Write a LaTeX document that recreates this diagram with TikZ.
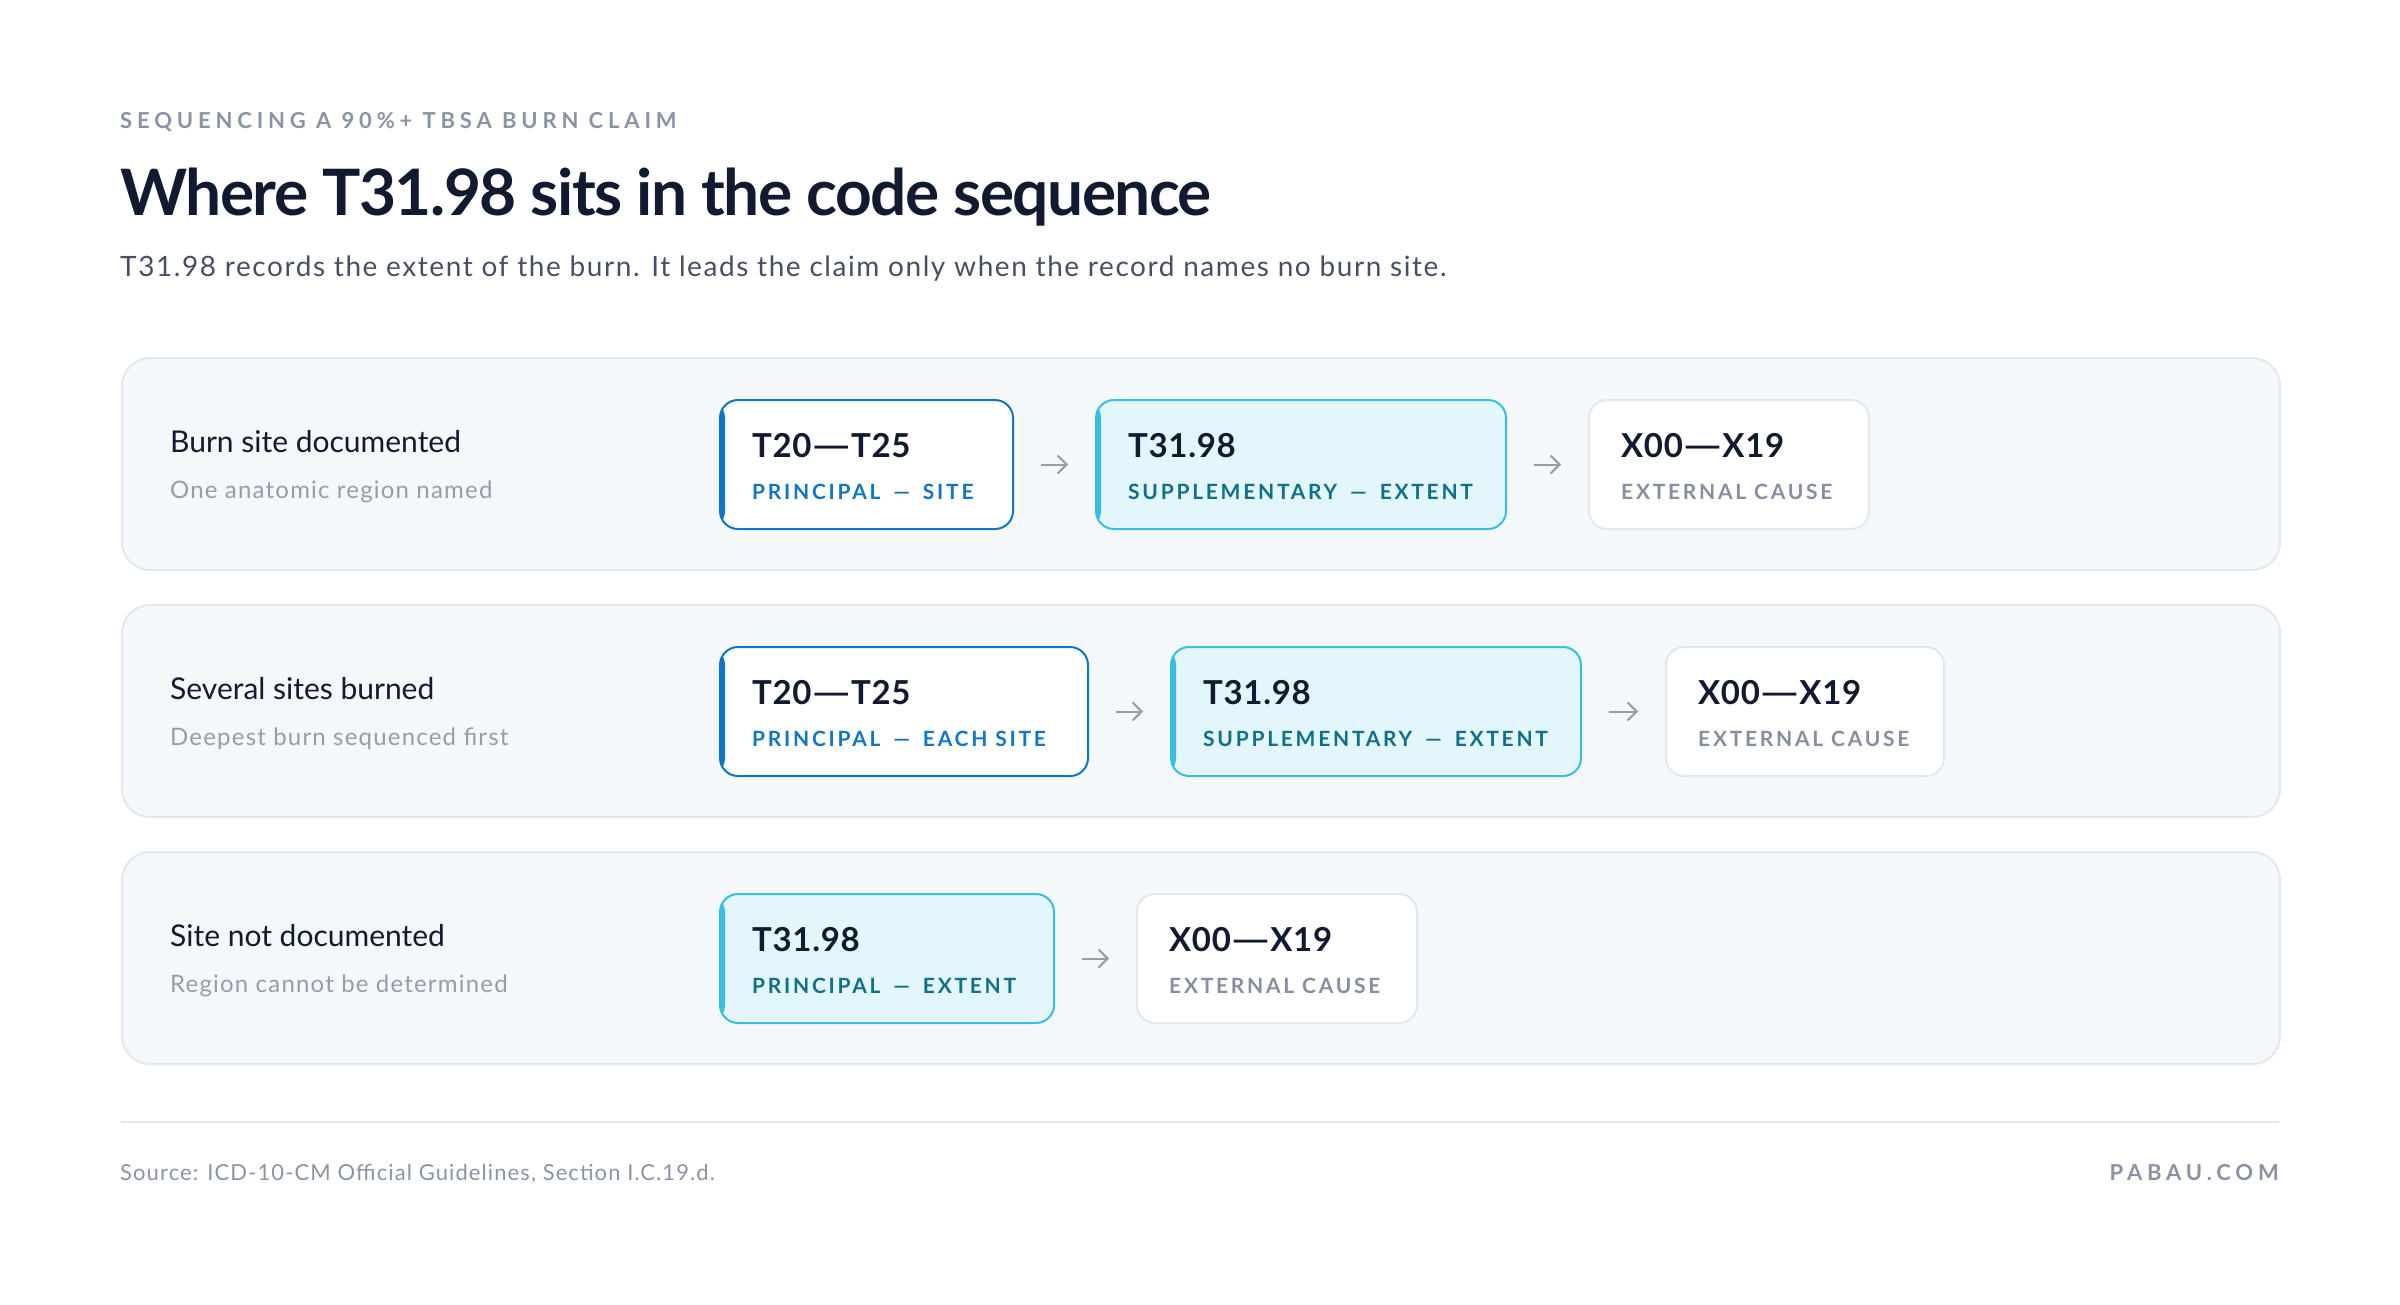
\documentclass[tikz,border=0pt]{standalone}
\usepackage{fontspec}
\setmainfont{Lato}
\newfontfamily\trackfont{Lato}[LetterSpace=13]
\newfontfamily\widetrackfont{Lato}[LetterSpace=22]
\newfontfamily\loosefont{Lato}[LetterSpace=5]
\newfontfamily\ledefont{Lato}[LetterSpace=5.6]
\newfontfamily\tightfont{Lato}[LetterSpace=-2.4]
\newfontfamily\codefont{Lato}[LetterSpace=2]
\newcommand\tagdash{\kern5pt{} — \kern5pt{}}
\newcommand\codedash{\scalebox{1.5}[1]{—}}
\usepackage{tikz}
\usetikzlibrary{arrows.meta,positioning,calc}
\definecolor{navy}{RGB}{17,26,48}
\definecolor{eyebrow}{RGB}{138,147,165}
\definecolor{subgray}{RGB}{71,80,99}
\definecolor{softgray}{RGB}{150,156,170}
\definecolor{rowbg}{RGB}{244,248,251}
\definecolor{rowline}{RGB}{226,232,239}
\definecolor{pblue}{RGB}{18,118,198}
\definecolor{cyanline}{RGB}{56,190,222}
\definecolor{cyanbg}{RGB}{227,246,251}
\definecolor{tealtext}{RGB}{16,112,138}
\definecolor{extgray}{RGB}{134,142,160}

\begin{document}
\begin{tikzpicture}[x=1pt,y=-1pt,
  row/.style={draw=rowline,fill=rowbg,line width=2pt,rounded corners=28pt,
    minimum width=2158pt,minimum height=212pt,inner sep=0pt,anchor=north west},
  box/.style={rounded corners=18pt,minimum height=129pt,inner sep=0pt,line width=2pt},
  principal/.style={box,fill=white,draw=pblue,
    path picture={\fill[pblue] (path picture bounding box.north west) rectangle ([xshift=5pt]path picture bounding box.south west);}},
  extent/.style={box,fill=cyanbg,draw=cyanline,
    path picture={\fill[cyanline] (path picture bounding box.north west) rectangle ([xshift=5pt]path picture bounding box.south west);}},
  external/.style={box,fill=white,draw=rowline},
  code/.style={anchor=base west,inner sep=0pt,text=navy,font=\fontsize{33}{40}\selectfont\codefont\bfseries},
  tag/.style={anchor=base west,inner sep=0pt,font=\fontsize{21}{26}\selectfont\trackfont\bfseries},
  lead/.style={anchor=base west,inner sep=0pt,text=navy,font=\fontsize{30}{36}\selectfont},
  leadsub/.style={anchor=base west,inner sep=0pt,text=softgray,font=\fontsize{24}{30}\selectfont\loosefont},
  arrow/.style={draw=softgray,line width=2pt,-{Straight Barb[length=9pt,width=18pt]},
    shorten <=27pt,shorten >=27pt}]
  \useasboundingbox (0,0) rectangle (2400,1304);

  % heading
  \node[anchor=base west,inner sep=0pt,text=eyebrow,font=\fontsize{22}{26}\selectfont\widetrackfont\bfseries]
    (eyebrow) at (120,128) {SEQUENCING A 90\%+ TBSA BURN CLAIM};
  \node[anchor=base west,inner sep=0pt,text=navy,font=\fontsize{64}{70}\selectfont\tightfont\bfseries]
    (title) at (120,215) {Where T31.98 sits in the code sequence};
  \node[anchor=base west,inner sep=0pt,text=subgray,font=\fontsize{28}{32}\selectfont\ledefont]
    (lede) at (120,276) {T31.98 records the extent of the burn. It leads the claim only when the record names no burn site.};

  % row 1
  \node[row] (row1) at (121,357) {};
  \node[lead] (lead1) at ([shift={(49,95)}]row1.north west) {Burn site documented};
  \node[leadsub] (sub1) at ([shift={(49,141)}]row1.north west) {One anatomic region named};
  \node[principal,minimum width=293pt,anchor=north west] (A1) at ([shift={(598,42)}]row1.north west) {};
  \node[extent,minimum width=410pt,right=81pt of A1] (B1) {};
  \node[external,minimum width=280pt,right=81pt of B1] (C1) {};
  \node[code] at ([shift={(33,58)}]A1.north west) {T20\codedash T25};
  \node[tag,text=pblue] at ([shift={(33,100)}]A1.north west) {PRINCIPAL\tagdash SITE};
  \node[code] at ([shift={(33,58)}]B1.north west) {T31.98};
  \node[tag,text=tealtext] at ([shift={(33,100)}]B1.north west) {SUPPLEMENTARY\tagdash EXTENT};
  \node[code] at ([shift={(33,58)}]C1.north west) {X00\codedash X19};
  \node[tag,text=extgray] at ([shift={(33,100)}]C1.north west) {EXTERNAL CAUSE};
  \draw[arrow] (A1) -- (B1);
  \draw[arrow] (B1) -- (C1);

  % row 2
  \node[row] (row2) at (121,604) {};
  \node[lead] (lead2) at ([shift={(49,95)}]row2.north west) {Several sites burned};
  \node[leadsub] (sub2) at ([shift={(49,141)}]row2.north west) {Deepest burn sequenced first};
  \node[principal,minimum width=368pt,anchor=north west] (A2) at ([shift={(598,42)}]row2.north west) {};
  \node[extent,minimum width=410pt,right=81pt of A2] (B2) {};
  \node[external,minimum width=278pt,right=83pt of B2] (C2) {};
  \node[code] at ([shift={(33,58)}]A2.north west) {T20\codedash T25};
  \node[tag,text=pblue] at ([shift={(33,100)}]A2.north west) {PRINCIPAL\tagdash EACH SITE};
  \node[code] at ([shift={(33,58)}]B2.north west) {T31.98};
  \node[tag,text=tealtext] at ([shift={(33,100)}]B2.north west) {SUPPLEMENTARY\tagdash EXTENT};
  \node[code] at ([shift={(33,58)}]C2.north west) {X00\codedash X19};
  \node[tag,text=extgray] at ([shift={(33,100)}]C2.north west) {EXTERNAL CAUSE};
  \draw[arrow] (A2) -- (B2);
  \draw[arrow] (B2) -- (C2);

  % row 3
  \node[row] (row3) at (121,851) {};
  \node[lead] (lead3) at ([shift={(49,95)}]row3.north west) {Site not documented};
  \node[leadsub] (sub3) at ([shift={(49,141)}]row3.north west) {Region cannot be determined};
  \node[extent,minimum width=334pt,anchor=north west] (A3) at ([shift={(598,42)}]row3.north west) {};
  \node[external,minimum width=280pt,right=81pt of A3] (B3) {};
  \node[code] at ([shift={(33,58)}]A3.north west) {T31.98};
  \node[tag,text=tealtext] at ([shift={(33,100)}]A3.north west) {PRINCIPAL\tagdash EXTENT};
  \node[code] at ([shift={(33,58)}]B3.north west) {X00\codedash X19};
  \node[tag,text=extgray] at ([shift={(33,100)}]B3.north west) {EXTERNAL CAUSE};
  \draw[arrow] (A3) -- (B3);

  % footer
  \draw[rowline,line width=2pt] (121,1122) -- (2279,1122);
  \node[anchor=base west,inner sep=0pt,text=eyebrow,font=\fontsize{22}{26}\selectfont\loosefont]
    (source) at (120,1180) {Source: ICD-10-CM Official Guidelines, Section I.C.19.d.};
  \node[anchor=base east,inner sep=0pt,text=eyebrow,font=\fontsize{22}{26}\selectfont\widetrackfont\bfseries]
    (brand) at (2279,1180) {PABAU.COM};
\end{tikzpicture}
\end{document}
